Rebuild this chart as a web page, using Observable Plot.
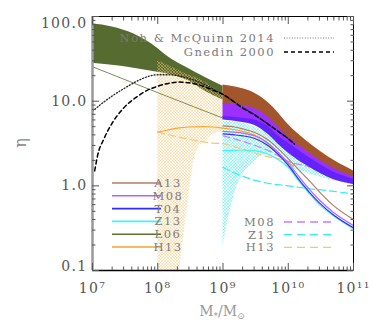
<!DOCTYPE html>
<html><head><meta charset="utf-8">
<script src="https://cdn.jsdelivr.net/npm/d3@7"></script>
<script src="https://cdn.jsdelivr.net/npm/@observablehq/plot@0.6"></script>
<style>
html,body{margin:0;padding:0;background:#fff;}
</style></head><body>
<script>
// ---------- axis ticks ----------
const xMajorTicks = [1e7, 1e8, 1e9, 1e10, 1e11];
const xTickLabels = ["10⁷", "10⁸", "10⁹", "10¹⁰", "10¹¹"];
const yMajorTicks = [0.1, 1, 10, 100];
const yTickLabels = ["0.1", "1.0", "10.0", "100.0"];
const minorSteps = [2, 3, 4, 5, 6, 7, 8, 9];

// ---------- L06 band (green) ----------
const l06BandX  = [1e7, 2e7, 4.3e7, 1e8, 1.4e8, 2.9e8, 5e8, 1e9];
const l06BandHi = [82, 75, 62, 42, 34, 24.5, 19.5, 15];
const l06BandLo = [28, 26.5, 24.5, 22, 21, 17.5, 13.5, 10.3];
// L06 line
const l06LineX = [1e7, 1e8, 1e9];
const l06LineY = [25.5, 12.6, 6.3];

// ---------- H13 band (orange hatch) ----------
const h13BandX  = [1e8, 1.5e8, 2.1e8, 2.5e8, 3.2e8, 3.8e8, 5.4e8, 7e8, 1e9];
const h13BandHi = [30, 26, 23, 21.5, 20, 19, 16.5, 14.5, 12];
const h13BandLo = [0.1, 0.1, 0.1, 0.25, 1.15, 2.4, 3.4, 4.0, 4.4];
const h13LineX = [1e8, 1.5e8, 2e8, 3e8, 5e8, 7e8, 1e9, 1.5e9, 2e9, 3e9, 5e9, 7e9, 1e10, 1.2e10];
const h13LineY = [4.3, 4.6, 4.8, 4.95, 5.0, 4.95, 4.8, 4.6, 4.4, 4.0, 3.1, 2.4, 1.9, 1.7];
const h13DashX = [1e8, 2e8, 3e8, 5e8, 7e8, 1e9, 2e9, 3e9, 5e9, 7e9, 1e10];
const h13DashY = [4.3, 3.8, 3.55, 3.3, 3.2, 3.15, 2.7, 2.45, 2.2, 2.1, 1.95];

// ---------- Z13 band (cyan hatch) ----------
const z13BandX  = [1e9, 1.2e9, 1.5e9, 2e9, 3e9, 4e9, 6e9, 1e10, 2e10, 5e10, 1e11];
const z13BandHi = [5.8, 5.8, 5.7, 5.5, 5.0, 4.5, 3.6, 2.6, 1.8, 1.2, 1.08];
const z13BandLo = [0.19, 0.4, 0.8, 1.35, 1.9, 2.3, 2.4, 1.7, 1.4, 1.15, 1.02];

// ---------- A13 / M08 / T04 bands ----------
const bandX   = [1e9, 2e9, 3e9, 5e9, 7e9, 1e10, 2e10, 5e10, 1e11];
const a13Hi   = [15.5, 14, 12.5, 9.5, 7.3, 5.3, 3.3, 2.0, 1.5];
const a13Lo   = [9.2, 8.7, 8.0, 6.2, 4.8, 3.7, 2.45, 1.55, 1.25];
const m08Hi   = [9.4, 8.9, 8.2, 6.4, 5.0, 3.8, 2.5, 1.6, 1.27];
const m08Lo   = [6.3, 5.8, 5.4, 4.2, 3.3, 2.6, 1.8, 1.22, 1.08];
const t04Hi   = [6.6, 6.3, 6.0, 5.0, 3.9, 3.2, 2.2, 1.45, 1.2];
const t04Lo   = [6.0, 5.6, 5.2, 4.0, 3.1, 2.45, 1.7, 1.18, 1.04];

// ---------- model lines (1e9 .. 1e11) ----------
const lineX  = [1e9, 1.5e9, 2e9, 3e9, 4e9, 5e9, 7e9, 1e10, 1.5e10, 2e10, 3e10, 5e10, 1e11];
const a13Line = [5.1, 4.95, 4.7, 4.3, 3.85, 3.45, 2.75, 2.1, 1.5, 1.2, 0.85, 0.58, 0.4];
const m08Line = [4.4, 4.3, 4.2, 3.9, 3.55, 3.15, 2.5, 1.85, 1.25, 0.95, 0.68, 0.48, 0.34];
const t04Line = [4.1, 4.0, 3.9, 3.65, 3.3, 2.95, 2.35, 1.75, 1.15, 0.88, 0.63, 0.45, 0.32];
const z13Line = [2.6, 2.62, 2.65, 2.6, 2.5, 2.35, 2.05, 1.65, 1.1, 0.85, 0.6, 0.44, 0.31];
const m08DashX = [1e9, 2e9, 5e9, 1e10, 2e10, 4e10, 1e11];
const m08DashY = [3.9, 3.35, 2.6, 1.95, 1.7, 1.5, 1.2];
const z13DashX = [1e9, 1.5e9, 2e9, 3e9, 5e9, 1e10, 2e10, 5e10, 1e11];
const z13DashY = [1.65, 1.42, 1.3, 1.17, 1.07, 1.0, 0.93, 0.86, 0.8];

// ---------- reference curves ----------
const nohX = [1e7, 1.5e7, 2e7, 3e7, 5e7, 7e7, 1e8, 1.5e8, 2e8, 3e8, 5e8, 7e8, 1e9, 2e9, 3e9, 5e9, 7e9, 1e10, 1.25e10];
const nohY = [7.6, 9.8, 11.5, 14, 17.5, 19.5, 20.5, 20.5, 20, 18.5, 16, 14, 12, 8.4, 7, 5.3, 4.4, 3.6, 3.1];
const gnedinX = [1.08e7, 1.2e7, 1.5e7, 2e7, 3e7, 5e7, 7e7, 1e8, 1.5e8, 2e8, 3e8, 5e8, 7e8, 1e9, 2e9, 3e9, 5e9, 7e9, 1e10, 1.25e10];
const gnedinY = [1.5, 2.3, 3.6, 5.5, 8.3, 11.5, 13.5, 15, 16.3, 16.8, 16.5, 15, 13.5, 12, 8.3, 6.9, 5.3, 4.4, 3.6, 3.1];

// ---------- legend ----------
const legendLabels = ["A13", "M08", "T04", "Z13", "L06", "H13"];
const legendColors = ["#b47c62", "#b366ff", "#2d2dff", "#40f4f4", "#5b7330", "#f7a52a"];
const dashLabels = ["M08", "Z13", "H13"];
const dashColors = ["#c080ff", "#30eeee", "#ffc36a"];
const refLabels = ["Noh & McQuinn 2014", "Gnedin 2000"];

// ---------- helpers to build tables ----------
const band = (xs, lo, hi) => xs.map((x, i) => ({x, lo: lo[i], hi: hi[i]}));
const pts = (xs, ys) => xs.map((x, i) => ({x, y: ys[i]}));
const xMinorTicks = xMajorTicks.slice(0, -1).flatMap(d => minorSteps.map(k => d * k));
const yMinorTicks = yMajorTicks.slice(0, -1).flatMap(d => minorSteps.map(k => d * k));

const C = {green: "#556b2f", brown: "#a3562c", purple: "#9b30ff", blue: "#6422ff"};
const cur = "monotone-x";
const lineOpts = (stroke, extra = {}) => ({x: "x", y: "y", stroke, strokeWidth: 1.2, curve: cur, clip: true, ...extra});
const areaOpts = fill => ({x: "x", y1: "lo", y2: "hi", fill, curve: cur, clip: true});

const blank = () => "";
const chart = Plot.plot({
  width: 374, height: 327,
  marginLeft: 92, marginRight: 21, marginTop: 16, marginBottom: 57,
  x: {type: "log", domain: [1e7, 1e11]},
  y: {type: "log", domain: [0.1, 100]},
  style: {fontFamily: "DejaVu Serif", fontSize: "14px", color: "#555", background: "white"},
  marks: [
    Plot.areaY(band(z13BandX, z13BandLo, z13BandHi), areaOpts("url(#hatchC)")),
    Plot.areaY(band(l06BandX, l06BandLo, l06BandHi), areaOpts(C.green)),
    Plot.areaY(band(h13BandX, h13BandLo, h13BandHi), areaOpts("url(#hatchO)")),
    Plot.line(pts(l06LineX, l06LineY), lineOpts("#7d8c55", {curve: "linear", strokeWidth: 1})),
    Plot.line(pts(h13DashX, h13DashY), lineOpts(dashColors[2], {strokeDasharray: "7,4"})),
    Plot.line(pts(h13LineX, h13LineY), lineOpts(legendColors[5])),
    Plot.line(pts(z13DashX, z13DashY), lineOpts(dashColors[1], {strokeDasharray: "7,4"})),
    Plot.line(pts(m08DashX, m08DashY), lineOpts(dashColors[0], {strokeDasharray: "7,4"})),
    Plot.line(pts(lineX, z13Line), lineOpts(legendColors[3])),
    Plot.line(pts(lineX, t04Line), lineOpts(legendColors[2])),
    Plot.line(pts(lineX, m08Line), lineOpts(legendColors[1])),
    Plot.line(pts(lineX, a13Line), lineOpts(legendColors[0])),
    Plot.areaY(band(bandX, a13Lo, a13Hi), areaOpts(C.brown)),
    Plot.areaY(band(bandX, m08Lo, m08Hi), areaOpts(C.purple)),
    Plot.areaY(band(bandX, t04Lo, t04Hi), areaOpts(C.blue)),
    Plot.line(pts(nohX, nohY), lineOpts("#222", {strokeDasharray: "1,2", strokeWidth: 1.3})),
    Plot.line(pts(gnedinX, gnedinY), lineOpts("#000", {strokeDasharray: "4,3", strokeWidth: 1.5})),
    Plot.frame({stroke: "#000", strokeWidth: 1}),
    Plot.ruleY([yMajorTicks[0]], {stroke: "#000", strokeWidth: 1.5}),
    Plot.ruleX([xMajorTicks[0]], {stroke: "#999", strokeWidth: 2.5}),
    Plot.axisX({anchor: "bottom", ticks: xMajorTicks, tickSize: -7, tickFormat: blank, label: null}),
    Plot.axisX({anchor: "bottom", ticks: xMinorTicks, tickSize: -3.5, tickFormat: blank, label: null}),
    Plot.axisX({anchor: "top", ticks: xMajorTicks, tickSize: -7, tickFormat: blank, label: null}),
    Plot.axisX({anchor: "top", ticks: xMinorTicks, tickSize: -3.5, tickFormat: blank, label: null}),
    Plot.axisY({anchor: "left", ticks: yMajorTicks, tickSize: -7, tickFormat: blank, label: null}),
    Plot.axisY({anchor: "left", ticks: yMinorTicks, tickSize: -3.5, tickFormat: blank, label: null}),
    Plot.axisY({anchor: "right", ticks: yMajorTicks, tickSize: -7, tickFormat: blank, label: null}),
    Plot.axisY({anchor: "right", ticks: yMinorTicks, tickSize: -3.5, tickFormat: blank, label: null}),
    Plot.axisX({anchor: "bottom", ticks: xMajorTicks, tickSize: 0, tickPadding: 13,
      tickFormat: d => xTickLabels[xMajorTicks.indexOf(d)], label: null}),
    Plot.axisY({anchor: "left", ticks: yMajorTicks.slice(1, 3), tickSize: 0, tickPadding: 5,
      tickFormat: d => yTickLabels[yMajorTicks.indexOf(d)], label: null}),
    Plot.axisY({anchor: "left", ticks: [yMajorTicks[3]], tickSize: 0, tickPadding: 5, dy: 7,
      tickFormat: d => yTickLabels[yMajorTicks.indexOf(d)], label: null}),
    Plot.axisY({anchor: "left", ticks: [yMajorTicks[0]], tickSize: 0, tickPadding: 5, dy: -4,
      tickFormat: d => yTickLabels[yMajorTicks.indexOf(d)], label: null})
  ]
});
document.body.appendChild(chart);

const svg = d3.select(chart);
svg.selectAll('g[aria-label="x-axis tick label"] text, g[aria-label="y-axis tick label"] text')
  .style("letter-spacing", "1.3px").attr("fill", "#555");

// hatch patterns
const defs = svg.insert("defs", ":first-child");
function hatch(id, color, w) {
  const p = defs.append("pattern").attr("id", id).attr("patternUnits", "userSpaceOnUse")
    .attr("width", 3).attr("height", 3);
  p.append("path").attr("d", "M-1,-1L4,4M4,-1L-1,4").attr("stroke", color)
    .attr("stroke-width", w).attr("fill", "none");
}
hatch("hatchO", "#ffc46e", 0.45);
hatch("hatchC", "#2ef2f2", 0.45);

const font = "DejaVu Serif";
const g = svg.append("g").attr("font-family", font).attr("font-size", 11.5).attr("fill", "#7a7a7a")
  .style("letter-spacing", "1.5px");

const refDash = ["1,1.6", "4,3"];
const refStroke = ["#777", "#000"];
refLabels.forEach((lab, i) => {
  const y = 38 + i * 14;
  g.append("text").attr("x", 275).attr("y", y).attr("dy", "0.35em").attr("text-anchor", "end").text(lab);
  g.append("line").attr("x1", 284).attr("x2", 334).attr("y1", y).attr("y2", y)
    .attr("stroke", refStroke[i]).attr("stroke-width", i ? 1.6 : 1.2).attr("stroke-dasharray", refDash[i]);
});
legendLabels.forEach((lab, i) => {
  const y = 183 + i * 12.8;
  g.append("line").attr("x1", 112).attr("x2", 161).attr("y1", y).attr("y2", y)
    .attr("stroke", legendColors[i]).attr("stroke-width", 1.6);
  g.append("text").attr("x", 168).attr("y", y).attr("dy", "0.35em").text(lab);
});
dashLabels.forEach((lab, i) => {
  const y = 222 + i * 12.7;
  g.append("text").attr("x", 275).attr("y", y).attr("dy", "0.35em").attr("text-anchor", "end").text(lab);
  g.append("line").attr("x1", 284).attr("x2", 334).attr("y1", y).attr("y2", y)
    .attr("stroke", dashColors[i]).attr("stroke-width", 1.3).attr("stroke-dasharray", "8,5");
});

const xt = svg.append("text").attr("x", 222).attr("y", 316).attr("text-anchor", "middle")
  .attr("font-family", font).attr("font-size", 14).attr("fill", "#999");
xt.append("tspan").text("M");
xt.append("tspan").attr("font-size", 9).attr("dy", 3).text("*");
xt.append("tspan").attr("dy", -3).text("/M");
xt.append("tspan").attr("font-size", 9).attr("dy", 3).text("⊙");
svg.append("text").attr("transform", "translate(26,143) rotate(-90)").attr("text-anchor", "middle")
  .attr("font-family", font).attr("font-size", 16).attr("fill", "#888").text("η");
</script>
</body></html>
